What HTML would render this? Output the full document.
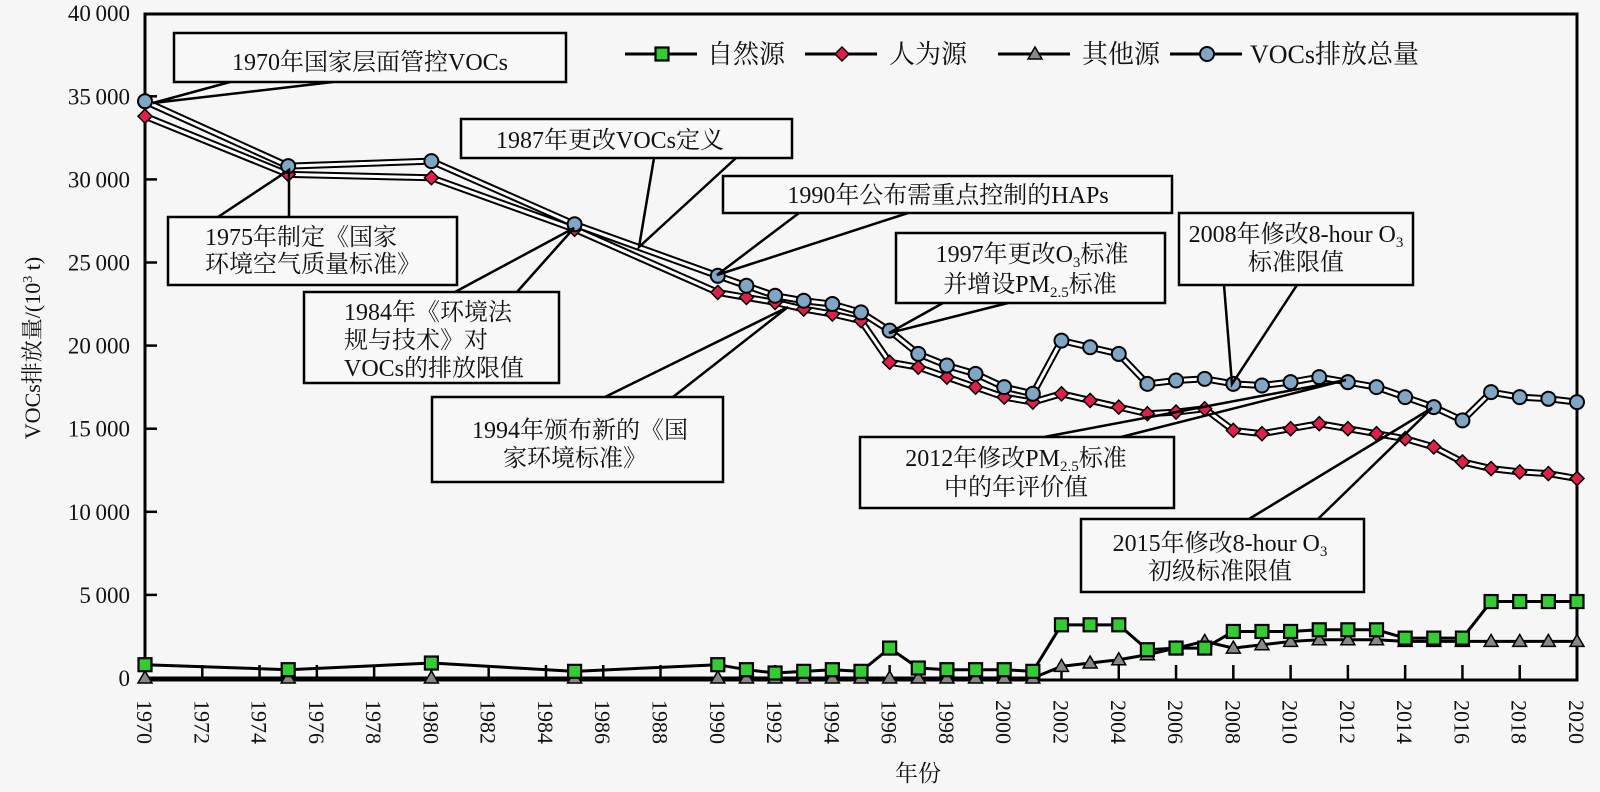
<!DOCTYPE html>
<html><head><meta charset="utf-8"><style>
html,body{margin:0;padding:0;background:#f6f6f6}
svg{display:block}
text{font-family:"Liberation Serif","Noto Serif CJK SC","Noto Sans CJK SC",serif;fill:#111}
</style></head><body>
<svg id="s" width="1600" height="792" viewBox="0 0 1600 792" xmlns="http://www.w3.org/2000/svg">
<rect width="1600" height="792" fill="#f6f6f6"/>
<g id="ticks"></g>
<rect x="145" y="14" width="1432" height="666" fill="none" stroke="#000" stroke-width="3"/>
<g id="data"></g>
<g stroke="#000" stroke-width="2.5">
<polyline fill="none" points="230,82 153,103 333,82"/>
<polyline fill="none" points="654,158 639,247 736,158"/>
<polyline fill="none" points="218,217 289,170 289,217"/>
<polyline fill="none" points="799,213 717,275 908,213"/>
<polyline fill="none" points="455,292 574,228 517,292"/>
<polyline fill="none" points="943,303 889,333 1008,303"/>
<polyline fill="none" points="1224,285 1232,384 1297,285"/>
<polyline fill="none" points="605,397 788,307 673,397"/>
<polyline fill="none" points="1044,437 1346,380 1121,437"/>
<polyline fill="none" points="1249,519 1432,408 1318,519"/>
<g fill="#f8f8f8">
<rect x="174" y="33" width="392" height="49"/>
<rect x="461" y="119" width="331" height="39"/>
<rect x="168" y="217" width="289" height="68"/>
<rect x="723" y="176" width="449" height="37"/>
<rect x="304" y="292" width="255" height="91"/>
<rect x="896" y="233" width="269" height="70"/>
<rect x="1179" y="213" width="234" height="72"/>
<rect x="432" y="397" width="291" height="85"/>
<rect x="860" y="437" width="314" height="71"/>
<rect x="1081" y="519" width="283" height="73"/>
</g>
</g>
<g font-size="24" text-anchor="middle">
<text x="370" y="70">1970年国家层面管控VOCs</text>
<text x="610" y="148">1987年更改VOCs定义</text>
<text x="205" y="245" text-anchor="start">1975年制定《国家</text>
<text x="205" y="272" text-anchor="start">环境空气质量标准》</text>
<text x="948" y="203">1990年公布需重点控制的HAPs</text>
<text x="344" y="320" text-anchor="start">1984年《环境法</text>
<text x="344" y="348" text-anchor="start">规与技术》对</text>
<text x="344" y="376" text-anchor="start">VOCs的排放限值</text>
<text x="1032" y="262">1997年更改O<tspan font-size="15" dy="5">3</tspan><tspan dy="-5">标准</tspan></text>
<text x="1030" y="292">并增设PM<tspan font-size="15" dy="5">2.5</tspan><tspan dy="-5">标准</tspan></text>
<text x="1296" y="242">2008年修改8-hour O<tspan font-size="15" dy="5">3</tspan></text>
<text x="1296" y="270">标准限值</text>
<text x="580" y="438">1994年颁布新的《国</text>
<text x="575" y="466">家环境标准》</text>
<text x="1016" y="466">2012年修改PM<tspan font-size="15" dy="5">2.5</tspan><tspan dy="-5">标准</tspan></text>
<text x="1016" y="495">中的年评价值</text>
<text x="1220" y="551">2015年修改8-hour O<tspan font-size="15" dy="5">3</tspan></text>
<text x="1220" y="579">初级标准限值</text>
</g>
<g id="legend" font-size="26"></g>
<text x="918" y="781" font-size="23" text-anchor="middle">年份</text>
<text transform="translate(40,348) rotate(-90)" font-size="22" text-anchor="middle">VOCs排放量/(10<tspan font-size="14" dy="-8">3</tspan><tspan dy="8"> t)</tspan></text>
</svg>
<script>
const NS="http://www.w3.org/2000/svg";
const X=y=>145+(y-1970)*28.64, Y=v=>678-v*0.01662;
function el(p,t,a){const e=document.createElementNS(NS,t);for(const k in a)e.setAttribute(k,a[k]);p.appendChild(e);return e;}
const tk=document.getElementById('ticks');
for(let v=0;v<=40000;v+=5000){const y=Y(v);
 if(v>0&&v<40000)el(tk,'line',{x1:145,x2:157,y1:y,y2:y,stroke:'#000','stroke-width':2.5});
 const t=el(tk,'text',{x:130,y:y+8,'font-size':23,'text-anchor':'end'});t.textContent=v==0?'0':(Math.floor(v/1000)+'\u2009000');}
for(let yr=1970;yr<=2020;yr+=2){const x=X(yr);
 if(yr>1970&&yr<2020)el(tk,'line',{x1:x,x2:x,y1:680,y2:665,stroke:'#000','stroke-width':2.5});
 const t=el(tk,'text',{transform:`translate(${x-8},700) rotate(90)`,'font-size':22});t.textContent=yr;}
const yrs=[1970,1975,1980,1985];for(let y=1990;y<=2020;y++)yrs.push(y);
const tot=[34700,30800,31100,27300,24200,23600,23000,22700,22500,22000,20900,19500,18800,18300,17500,17100,20300,19900,19500,17700,17900,18000,17700,17600,17800,18100,17800,17500,16900,16300,15500,17200,16900,16800,16600];
const ant=[33800,30300,30100,27000,23200,22900,22600,22200,21900,21500,19000,18700,18100,17500,16900,16600,17100,16700,16300,15900,16000,16200,14900,14700,15000,15300,15000,14700,14400,13900,13000,12600,12400,12300,12000];
const nat=[800,500,900,400,800,500,300,400,500,400,1800,600,500,500,500,400,3200,3200,3200,1700,1800,1800,2800,2800,2800,2900,2900,2900,2400,2400,2400,4600,4600,4600,4600];
const oth=[0,0,0,0,0,0,0,0,0,0,0,0,0,0,0,0,700,900,1100,1400,1800,2200,1800,2000,2200,2300,2300,2300,2200,2200,2200,2200,2200,2200,2200];
const d=document.getElementById('data');
function pts(a){return a.map((v,i)=>X(yrs[i])+','+Y(v)).join(' ');}
function dbl(a){el(d,'polyline',{points:pts(a),fill:'none',stroke:'#000','stroke-width':7,'stroke-linejoin':'round'});
 el(d,'polyline',{points:pts(a),fill:'none',stroke:'#fff','stroke-width':3,'stroke-linejoin':'round'});}
function sgl(a){el(d,'polyline',{points:pts(a),fill:'none',stroke:'#000','stroke-width':3});}
sgl(oth);sgl(nat);dbl(ant);dbl(tot);
function mk(p,kind,x,y){
 if(kind=='sq')el(p,'rect',{x:x-6.5,y:y-6.5,width:13,height:13,fill:'#3c3',stroke:'#000','stroke-width':2.2});
 if(kind=='di')el(p,'polygon',{points:`${x},${y-7} ${x+7},${y} ${x},${y+7} ${x-7},${y}`,fill:'#e0204a',stroke:'#000','stroke-width':1.5});
 if(kind=='tr')el(p,'polygon',{points:`${x},${y-7} ${x+7},${y+5} ${x-7},${y+5}`,fill:'#888',stroke:'#000','stroke-width':1.5});
 if(kind=='ci')el(p,'circle',{cx:x,cy:y,r:7,fill:'#7fa6c4',stroke:'#000','stroke-width':2});}
oth.forEach((v,i)=>mk(d,'tr',X(yrs[i]),Y(v)));
nat.forEach((v,i)=>mk(d,'sq',X(yrs[i]),Y(v)));
ant.forEach((v,i)=>mk(d,'di',X(yrs[i]),Y(v)));
tot.forEach((v,i)=>mk(d,'ci',X(yrs[i]),Y(v)));
const lg=document.getElementById('legend');
[[625,'sq','自然源',707],[805,'di','人为源',889],[998,'tr','其他源',1082],[1170,'ci','VOCs排放总量',1250]].forEach(([x,k,t,tx])=>{
 el(lg,'line',{x1:x,x2:x+72,y1:54,y2:54,stroke:'#000','stroke-width':3});mk(lg,k,x+37,54);
 const e=el(lg,'text',{x:tx,y:63});e.textContent=t;});
</script>
</body></html>
